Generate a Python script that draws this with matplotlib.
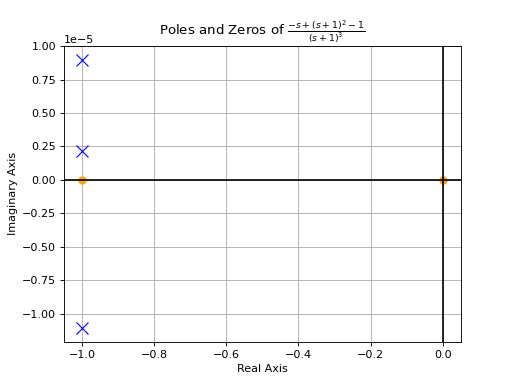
import matplotlib
matplotlib.use("Agg")
import matplotlib.pyplot as plt
import numpy as np

# poles and zeros
pole_re = [-1.0, -1.0, -1.0]
pole_im = [0.9e-5, 0.215e-5, -1.11e-5]
zero_re = [-1.0, 0.0]
zero_im = [0.0, 0.0]

fig = plt.figure(figsize=(6.4, 4.8), dpi=80)
ax = fig.add_subplot(111)
ax.plot(pole_re, pole_im, 'x', color='blue', markersize=10)
ax.plot(zero_re, zero_im, 'o', color='orange', markersize=6.5)
ax.axhline(0, color='black', linewidth=1.5)
ax.axvline(0, color='black', linewidth=1.5)
ax.grid(True)
ax.set_title(r'Poles and Zeros of $\frac{-s+(s+1)^2-1}{(s+1)^3}$')
ax.set_xlabel('Real Axis')
ax.set_ylabel('Imaginary Axis')

fig.savefig('out.png', dpi=80)
